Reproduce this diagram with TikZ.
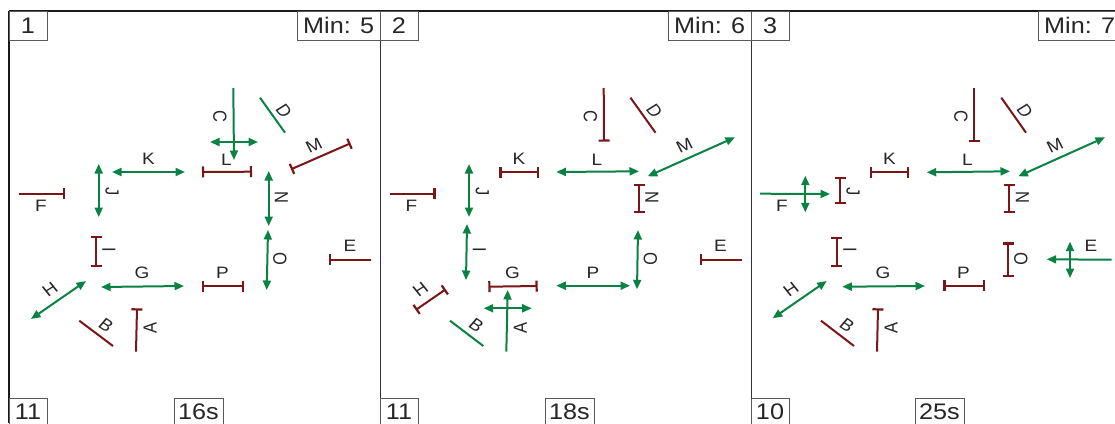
\documentclass[tikz,border=0pt]{standalone}
\usepackage{fontspec}
\usepackage{graphicx}
\setmainfont{Liberation Sans}
\newfontfamily\boxfont[FakeStretch=1.12]{Liberation Sans}
\usetikzlibrary{arrows.meta}
\definecolor{grn}{HTML}{0B8244}
\definecolor{rd}{HTML}{7A1518}
\definecolor{txt}{HTML}{262626}
\tikzset{
  seg/.style={line width=2pt},
  plainG/.style={seg,draw=grn},
  plainR/.style={seg,draw=rd},
  dbl/.style={seg,draw=grn,{Triangle[length=9.5pt,width=8pt]}-{Triangle[length=9.5pt,width=8pt]}},
  one/.style={seg,draw=grn,-{Triangle[length=9.5pt,width=8pt]}},
  teeE/.style={seg,draw=rd,-{Bar[width=11pt,line width=2.2pt]}},
  teeB/.style={seg,draw=rd,{Bar[width=11pt,line width=2.2pt]}-{Bar[width=11pt,line width=2.2pt]}},
  lab/.style={inner sep=0pt,text=txt,font=\fontsize{16.5}{18}\selectfont},
  infobox/.style={draw=black!65,line width=0.7pt,fill=white,inner sep=0pt,text=txt,font=\boxfont\fontsize{22.5}{25}\selectfont,text height=16pt,text depth=0pt},
  frameT/.style={draw=black!90,line width=1.6pt},
  frameD/.style={draw=black!80,line width=0.9pt},
}
\newcommand{\sg}[6]{\coordinate (#1a) at (#3,#4); \coordinate (#1b) at (#5,#6); \draw[#2] (#1a) -- (#1b);}
% a letter turned by #1 degrees, then widened as the whole reference is
\newcommand{\rl}[2]{\scalebox{1.15}[1]{\rotatebox[origin=c]{#1}{#2}}}
\begin{document}
\begin{tikzpicture}[x=1pt,y=-1pt]
\useasboundingbox (0,0) rectangle (1115,423);
\fill[white] (0,0) rectangle (1115,423);
% frame
\coordinate (tl) at (9,11); \coordinate (tr) at (1115,11); \coordinate (bl) at (9,423);
\coordinate (d1t) at (380,11); \coordinate (d1b) at (380,423);
\coordinate (d2t) at (751,11); \coordinate (d2b) at (751,423);
\draw[frameT] (tl) -- (tr);
\draw[line width=2pt,draw=black!90] (tl) -- (bl);
\draw[frameD] (d1t) -- (d1b);
\draw[frameD] (d2t) -- (d2b);
% info boxes
\node[infobox,minimum width=38pt,minimum height=29pt] (n1) at (28,25.5) {1};
\node[infobox,minimum width=38pt,minimum height=29pt] (n2) at (399,25.5) {2};
\node[infobox,minimum width=38pt,minimum height=29pt] (n3) at (770,25.5) {3};
\node[infobox,minimum width=82.5pt,minimum height=29pt] (m1) at (338.7,25.5) {Min: 5};
\node[infobox,minimum width=82.5pt,minimum height=29pt] (m2) at (709.7,25.5) {Min: 6};
\node[infobox,minimum width=82.5pt,minimum height=29pt] (m3) at (1079.7,25.5) {Min: 7};
\node[infobox,minimum width=38pt,minimum height=26pt] (c1) at (28,411.3) {11};
\node[infobox,minimum width=38pt,minimum height=26pt] (c2) at (399,411.3) {11};
\node[infobox,minimum width=38pt,minimum height=26pt] (c3) at (770,411.3) {10};
\node[infobox,minimum width=49pt,minimum height=26pt] (t1) at (198.5,411.3) {16s};
\node[infobox,minimum width=49pt,minimum height=26pt] (t2) at (569.5,411.3) {18s};
\node[infobox,minimum width=49pt,minimum height=26pt] (t3) at (939.5,411.3) {25s};
% labels for all panels
\foreach \p/\dx in {1/0,2/370.4,3/741}{
  \begin{scope}[xshift=\dx pt]
  \node[lab] (A\p) at (150,328) {\rl{90}{A}};
  \node[lab] (B\p) at (106,325) {\rl{-37}{B}};
  \node[lab] (C\p) at (220,116.7) {\rl{-90}{C}};
  \node[lab] (D\p) at (284,110.7) {\rl{-54}{D}};
  \node[lab] (E\p) at (350,246) {\rl{0}{E}};
  \node[lab] (F\p) at (41,206) {\rl{0}{F}};
  \node[lab] (G\p) at (142,272.5) {\rl{0}{G}};
  \node[lab] (H\p) at (50,289) {\rl{35}{H}};
  \node[lab] (I\p) at (109,251.5) {\rl{-90}{I}};
  \node[lab] (J\p) at (112,192) {\rl{-90}{J}};
  \node[lab] (K\p) at (148.5,159) {\rl{0}{K}};
  \node[lab] (L\p) at (226.5,159.5) {\rl{0}{L}};
  \node[lab] (M\p) at (314,145.5) {\rl{24}{M}};
  \node[lab] (N\p) at (281.5,197.5) {\rl{-90}{N}};
  \node[lab] (O\p) at (280,258.5) {\rl{-90}{O}};
  \node[lab] (P\p) at (222.5,273) {\rl{0}{P}};
  \end{scope}
}
% panel 1
\sg{sA1}{teeE}{136}{351.7}{137}{308.3}
\sg{sB1}{plainR}{79.3}{320.7}{113}{346}
\sg{sC1}{one}{233.3}{88}{234}{160}
\sg{xC1}{dbl}{210}{142}{258}{142}
\sg{sD1}{plainG}{260}{97.7}{285}{132.7}
\sg{sE1}{teeE}{371}{259.7}{329}{259.7}
\sg{sF1}{teeE}{19}{193.7}{65}{193.7}
\sg{sG1}{dbl}{101}{287}{184}{286}
\sg{sH1}{dbl}{31}{319}{86}{281}
\sg{sI1}{teeB}{96}{236}{96}{267}
\sg{sJ1}{dbl}{98.7}{164}{98.7}{217}
\sg{sK1}{dbl}{112}{172}{185}{172}
\sg{sL1}{teeB}{202}{172}{252}{171.7}
\sg{sM1}{teeB}{291}{169.3}{350.5}{143.3}
\sg{sN1}{dbl}{268.7}{171}{268.7}{226}
\sg{sO1}{dbl}{268}{230}{266.7}{290}
\sg{sP1}{teeB}{202}{286}{243.7}{286}
% panel 2
\sg{sA2}{one}{506.3}{351.7}{507.7}{290}
\sg{xA2}{dbl}{483.7}{308.3}{531.7}{308.3}
\sg{sB2}{plainG}{450}{320.7}{483.3}{346}
\sg{sC2}{teeE}{603.7}{88}{604}{141.7}
\sg{sD2}{plainR}{630.5}{97.7}{655.5}{132.7}
\sg{sE2}{teeE}{741.5}{259.7}{699.5}{259.7}
\sg{sF2}{teeE}{389.5}{193.7}{435.5}{193.7}
\sg{sG2}{teeB}{488.3}{286.7}{537.7}{286}
\sg{sH2}{teeB}{415.7}{310}{445.7}{289.3}
\sg{sI2}{dbl}{467}{224}{466}{280}
\sg{sJ2}{dbl}{469}{164}{469}{217}
\sg{sK2}{teeB}{499.3}{172}{538.7}{172}
\sg{sL2}{dbl}{556.3}{172}{639}{171.3}
\sg{sM2}{dbl}{647.7}{176.3}{735}{137.3}
\sg{sN2}{teeB}{639}{183.7}{639}{213}
\sg{sO2}{dbl}{638}{230}{637}{289.3}
\sg{sP2}{dbl}{556.3}{285.7}{630}{285.7}
% panel 3
\sg{sA3}{teeE}{877}{351.7}{878}{308.3}
\sg{sB3}{plainR}{821}{320.7}{854}{346}
\sg{sC3}{teeE}{974.3}{88}{974.3}{141.7}
\sg{sD3}{plainR}{1001.3}{97.7}{1026}{132.7}
\sg{sE3}{one}{1111.7}{259.7}{1046.7}{259.3}
\sg{xE3}{dbl}{1070}{241.7}{1070}{278}
\sg{sF3}{one}{760}{193.7}{830}{194}
\sg{xF3}{dbl}{805.3}{175.7}{805.3}{212.3}
\sg{sG3}{dbl}{842.3}{286.7}{925}{286}
\sg{sH3}{dbl}{772.7}{318.3}{826.7}{281}
\sg{sI3}{teeB}{836.7}{236.7}{836.7}{267.3}
\sg{sJ3}{teeB}{840}{177}{840}{204}
\sg{sK3}{teeB}{870}{172.3}{909.3}{172.3}
\sg{sL3}{dbl}{926.7}{172.3}{1010}{171.3}
\sg{sM3}{dbl}{1018.3}{176.3}{1105}{137.3}
\sg{sN3}{teeB}{1009.3}{183.7}{1009.3}{213}
\sg{sO3}{teeB}{1008.3}{242.3}{1008.3}{276.7}
\sg{sP3}{teeB}{943.3}{285.7}{984.7}{285.7}
\end{tikzpicture}
\end{document}
